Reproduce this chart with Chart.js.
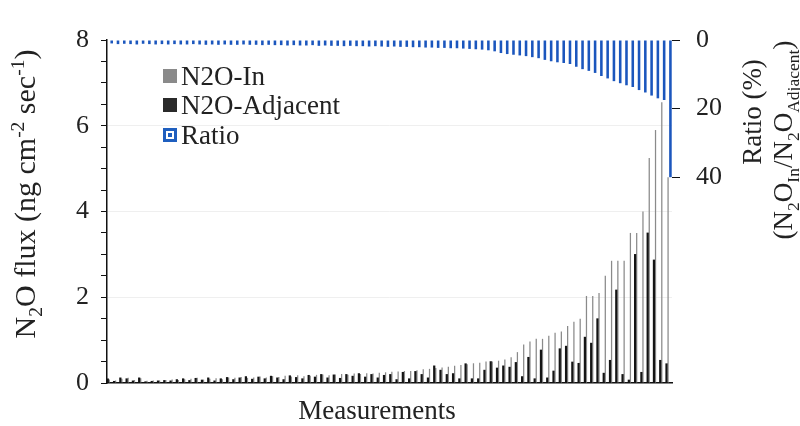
<!DOCTYPE html>
<html>
<head>
<meta charset="utf-8">
<script src="https://cdn.jsdelivr.net/npm/chart.js@4.4.1/dist/chart.umd.min.js"></script>
<style>
html, body { margin: 0; padding: 0; background: #fff; }
</style>
</head>
<body>
<canvas id="myChart" width="800" height="426"></canvas>
<script>
// measurements, sorted by N2O-In flux
const measurements = [];
for (let i = 1; i <= 90; i++) measurements.push(String(i));

// N2O flux (ng cm-2 sec-1)
const n2oIn = [
    0.08, 0.06, 0.10, 0.12, 0.07, 0.11, 0.05, 0.06, 0.06, 0.07,
    0.08, 0.07, 0.09, 0.10, 0.12, 0.08, 0.10, 0.11, 0.09, 0.13,
    0.12, 0.14, 0.12, 0.13, 0.15, 0.13, 0.16, 0.14, 0.17, 0.15,
    0.18, 0.16, 0.17, 0.19, 0.20, 0.18, 0.20, 0.21, 0.19, 0.22,
    0.21, 0.23, 0.22, 0.24, 0.25, 0.26, 0.27, 0.28, 0.28, 0.30,
    0.32, 0.33, 0.35, 0.36, 0.38, 0.40, 0.42, 0.44, 0.46, 0.47,
    0.50, 0.50, 0.52, 0.55, 0.60, 0.72, 0.90, 0.97, 1.03, 1.03,
    1.10, 1.17, 1.20, 1.33, 1.43, 1.50, 2.03, 2.03, 2.10, 2.50,
    2.85, 2.85, 2.85, 3.50, 3.50, 4.00, 5.25, 5.90, 6.55, 4.80
];
const n2oAdjacent = [
    0.10, 0.04, 0.12, 0.10, 0.05, 0.12, 0.03, 0.04, 0.05, 0.06,
    0.05, 0.08, 0.10, 0.06, 0.11, 0.07, 0.12, 0.05, 0.10, 0.13,
    0.08, 0.12, 0.15, 0.09, 0.14, 0.10, 0.16, 0.12, 0.08, 0.17,
    0.13, 0.10, 0.18, 0.14, 0.20, 0.12, 0.19, 0.11, 0.20, 0.16,
    0.22, 0.14, 0.20, 0.12, 0.18, 0.20, 0.08, 0.25, 0.10, 0.27,
    0.20, 0.12, 0.40, 0.30, 0.20, 0.22, 0.10, 0.45, 0.10, 0.10,
    0.30, 0.50, 0.35, 0.40, 0.37, 0.48, 0.15, 0.60, 0.10, 0.77,
    0.12, 0.28, 0.80, 0.86, 0.49, 0.46, 1.07, 0.93, 1.50, 0.23,
    0.53, 2.17, 0.20, 0.07, 3.00, 0.25, 3.50, 2.87, 0.53, 0.45
];
// Ratio (%)
const ratio = [
    1.0, 1.2, 1.1, 1.2, 1.3, 1.1, 1.2, 1.3, 1.2, 1.3,
    1.2, 1.3, 1.3, 1.2, 1.3, 1.4, 1.3, 1.4, 1.3, 1.4,
    1.4, 1.3, 1.4, 1.4, 1.5, 1.4, 1.5, 1.5, 1.6, 1.5,
    1.6, 1.6, 1.5, 1.7, 1.6, 1.7, 1.7, 1.8, 1.7, 1.8,
    1.8, 1.9, 1.8, 1.9, 2.0, 1.9, 2.0, 2.0, 2.1, 2.1,
    2.2, 2.2, 2.3, 2.3, 2.4, 2.4, 2.5, 2.6, 2.7, 2.8,
    3.0, 3.3, 3.8, 4.1, 4.3, 4.5, 4.7, 5.0, 5.3, 5.8,
    6.2, 6.5, 6.7, 7.0, 7.8, 8.5, 9.0, 9.6, 10.5, 11.2,
    12.0, 12.6, 13.2, 13.7, 14.6, 15.3, 16.2, 17.0, 17.5, 40.0
];
const fluxTicks = [0, 2, 4, 6, 8];
const ratioTicks = [0, 20, 40];

const SERIF = '"Liberation Serif", "DejaVu Serif", serif';
Chart.defaults.font.family = SERIF;
Chart.defaults.font.size = 26;
Chart.defaults.color = '#222';

// text with sub/superscripts, centred on x,y
function drawRich(ctx, parts, x, y, size, angle) {
    ctx.save();
    ctx.translate(x, y);
    ctx.rotate(angle);
    ctx.fillStyle = '#222';
    ctx.textBaseline = 'alphabetic';
    ctx.textAlign = 'left';
    let total = 0;
    parts.forEach(p => {
        ctx.font = (p[1] ? size * 0.65 : size) + 'px ' + SERIF;
        total += ctx.measureText(p[0]).width;
    });
    let cx = -total / 2;
    parts.forEach(p => {
        ctx.font = (p[1] ? size * 0.65 : size) + 'px ' + SERIF;
        let dy = 0;
        if (p[1] === 'sub') dy = size * 0.25;
        if (p[1] === 'sup') dy = -size * 0.38;
        ctx.fillText(p[0], cx, size * 0.33 + dy);
        cx += ctx.measureText(p[0]).width;
    });
    ctx.restore();
}

const titlesPlugin = {
    id: 'titles',
    afterDraw(chart) {
        const ctx = chart.ctx;
        drawRich(ctx, [['N'], ['2', 'sub'], ['O flux (ng cm'], ['-2', 'sup'], [' sec'], ['-1', 'sup'], [')']], 25, 194, 30, -Math.PI / 2);
        drawRich(ctx, [['Ratio (%)']], 752, 112, 27, -Math.PI / 2);
        drawRich(ctx, [['(N'], ['2', 'sub'], ['O'], ['In', 'sub'], ['/N'], ['2', 'sub'], ['O'], ['Adjacent', 'sub'], [')']], 783, 140, 27, -Math.PI / 2);
        drawRich(ctx, [['Measurements']], 377, 410, 27, 0);

        // legend inside the plot
        const rows = [76, 105, 135];
        ctx.save();
        chart.data.datasets.forEach((ds, i) => {
            const y = rows[i];
            ctx.fillStyle = ds.legendColor;
            ctx.fillRect(163, y - 7, 14, 14);
            if (i === 2) {
                ctx.strokeStyle = '#fff';
                ctx.lineWidth = 2;
                ctx.strokeRect(167, y - 3, 6, 6);
            }
        });
        ctx.font = '27px ' + SERIF;
        ctx.fillStyle = '#222';
        ctx.textBaseline = 'alphabetic';
        ctx.textAlign = 'left';
        chart.data.datasets.forEach((ds, i) => {
            ctx.fillText(ds.label, 181, rows[i] + 9);
        });
        ctx.restore();
    }
};

const data = {
    labels: measurements,
    datasets: [{
        label: 'N2O-In',
        data: n2oIn,
        backgroundColor: '#8a8a8a',
        legendColor: '#8a8a8a',
        xAxisID: 'x',
        yAxisID: 'y',
        barPercentage: 0.8,
        categoryPercentage: 1,
        order: 2
    }, {
        label: 'N2O-Adjacent',
        data: n2oAdjacent,
        backgroundColor: '#141414',
        legendColor: '#2a2a2a',
        xAxisID: 'x',
        yAxisID: 'y',
        barPercentage: 1,
        categoryPercentage: 1,
        order: 1
    }, {
        label: 'Ratio',
        data: ratio,
        backgroundColor: '#1b56bd',
        legendColor: '#1f5fbf',
        xAxisID: 'x2',
        yAxisID: 'y2',
        barPercentage: 0.82,
        categoryPercentage: 1,
        order: 0
    }]
};

const config = {
    type: 'bar',
    data: data,
    plugins: [titlesPlugin],
    options: {
        responsive: false,
        animation: false,
        layout: { padding: { top: 40, left: 0, right: 0, bottom: 0 } },
        plugins: {
            legend: { display: false },
            tooltip: { enabled: false }
        },
        scales: {
            x: {
                offset: true,
                ticks: { display: false },
                grid: { display: false },
                border: { color: '#111', width: 1.5 },
                afterFit: s => { s.height = 43; }
            },
            x2: {
                display: false,
                offset: true
            },
            y: {
                position: 'left',
                min: 0,
                max: 8,
                ticks: {
                    stepSize: 0.5,
                    padding: 12,
                    autoSkip: false,
                    callback: v => fluxTicks.includes(v) ? v : ''
                },
                grid: {
                    drawOnChartArea: true,
                    tickLength: 6,
                    tickColor: '#111',
                    color: c => (c.tick && fluxTicks.includes(c.tick.value) && c.tick.value > 0 && c.tick.value < 8) ? '#efefef' : 'rgba(0,0,0,0)'
                },
                border: { color: '#111', width: 1.5 },
                afterFit: s => { s.width = 107; }
            },
            y2: {
                position: 'right',
                reverse: true,
                min: 0,
                max: 100,
                ticks: {
                    stepSize: 20,
                    padding: 16,
                    callback: v => ratioTicks.includes(v) ? v : ''
                },
                grid: {
                    drawOnChartArea: false,
                    tickLength: 8,
                    tickColor: c => (c.tick && ratioTicks.includes(c.tick.value)) ? '#111' : 'rgba(0,0,0,0)'
                },
                border: { display: false },
                afterFit: s => { s.width = 128; }
            }
        }
    }
};

new Chart(document.getElementById('myChart'), config);
</script>
</body>
</html>
